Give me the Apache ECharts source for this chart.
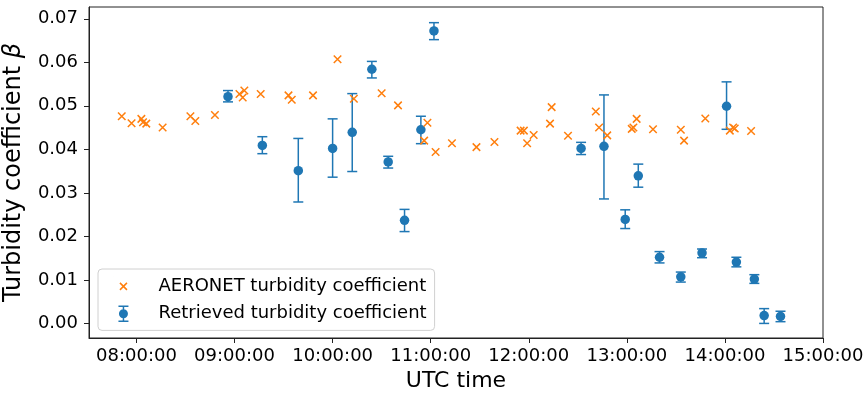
<!DOCTYPE html>
<html>
<head>
<meta charset="utf-8">
<script src="https://cdn.jsdelivr.net/npm/echarts@6/dist/echarts.min.js"></script>
<style>
html,body{margin:0;padding:0;background:#fff;}
#chart{width:866px;height:396px;}
</style>
</head>
<body>
<div id="chart"></div>
<script>
// ---- data ----
const aeronetTime = ["07:51","07:57","08:03","08:04","08:06","08:16","08:33","08:36","08:48","09:03","09:05","09:06","09:16","09:33","09:35","09:48","10:03","10:13","10:30","10:40","10:56","10:58","11:03","11:13","11:28","11:39","11:55","11:57","11:59","12:03","12:13","12:14","12:24","12:41","12:43","12:48","13:03","13:04","13:06","13:16","13:33","13:35","13:48","14:03","14:05","14:06","14:16"];
const aeronetBeta = [0.0476,0.0460,0.0470,0.0462,0.0459,0.0450,0.0476,0.0465,0.0479,0.0527,0.0519,0.0535,0.0527,0.0524,0.0514,0.0524,0.0607,0.0516,0.0529,0.0501,0.0420,0.0461,0.0394,0.0414,0.0405,0.0417,0.0443,0.0443,0.0414,0.0433,0.0459,0.0497,0.0431,0.0487,0.0450,0.0432,0.0447,0.0450,0.0470,0.0446,0.0445,0.0420,0.0471,0.0443,0.0450,0.0448,0.0442];

const retrievedTime = ["08:56","09:17","09:39","10:00","10:12","10:24","10:34","10:44","10:54","11:02","12:32","12:46","12:59","13:07","13:20","13:33","13:46","14:01","14:07","14:18","14:24","14:34"];
const retrievedBeta = [0.0521,0.0409,0.0351,0.0402,0.0439,0.0584,0.0371,0.0237,0.0445,0.0672,0.0402,0.0407,0.0239,0.0339,0.0152,0.0107,0.0162,0.0499,0.0141,0.0102,0.0018,0.0016];
const retrievedLow  = [0.0509,0.0390,0.0279,0.0336,0.0349,0.0564,0.0357,0.0211,0.0413,0.0652,0.0388,0.0286,0.0218,0.0313,0.0139,0.0095,0.0151,0.0446,0.0130,0.0092,0.0000,0.0004];
const retrievedHigh = [0.0535,0.0429,0.0425,0.0470,0.0528,0.0602,0.0384,0.0262,0.0476,0.0691,0.0416,0.0525,0.0261,0.0366,0.0165,0.0118,0.0171,0.0555,0.0152,0.0112,0.0034,0.0028];

const xTickHours = [8, 9, 10, 11, 12, 13, 14, 15];
const yTickValues = [0, 0.01, 0.02, 0.03, 0.04, 0.05, 0.06, 0.07];

const aeronetName = "AERONET turbidity coefficient";
const retrievedName = "Retrieved turbidity coefficient";

// ---- helpers ----
function toHours(s) {
  const p = s.split(":").map(Number);
  return p[0] + p[1] / 60 + (p[2] || 0) / 3600;
}
function pad2(n) { return (n < 10 ? "0" : "") + n; }

const FONT = "DejaVu Sans";
const BLUE = "#1f77b4";
const ORANGE = "#ff7f0e";

const aeronetData = aeronetTime.map((t, i) => [toHours(t), aeronetBeta[i]]);
const retrievedData = retrievedTime.map((t, i) => [toHours(t), retrievedBeta[i]]);
const errorData = retrievedTime.map((t, i) => [toHours(t), retrievedLow[i], retrievedHigh[i]]);

const xIconLegend = "path://M0,0L0.01,0M40,20L40.01,20M6.5,6.5L13.5,13.5M13.5,6.5L6.5,13.5";
const ebIconLegend = "path://M0,0L0,0ZM40,20L40,20Z" +
  "M5,1.75H15V3.25H5Z" +
  "M9.25,2.5H10.75V17.5H9.25Z" +
  "M5,16.75H15V18.25H5Z" +
  "M10,5.5A4.5,4.5 0 1 1 10,14.5A4.5,4.5 0 1 1 10,5.5Z";

const chart = echarts.init(document.getElementById("chart"), null, {renderer: "canvas"});

const option = {
  animation: false,
  backgroundColor: "#ffffff",
  textStyle: {fontFamily: FONT},
  grid: {
    left: 89, right: 43, top: 7, bottom: 58,
    containLabel: false,
    outerBoundsMode: "none",
    show: true,
    borderColor: "#222222",
    borderWidth: 1,
    backgroundColor: "transparent"
  },
  legend: {
    orient: "vertical",
    left: 98, top: 269,
    itemWidth: 40, itemHeight: 20, itemGap: 6.7,
    padding: [6.6, 8, 6.6, 14.7],
    backgroundColor: "#ffffff",
    borderColor: "#d0d0d0",
    borderWidth: 1,
    borderRadius: 4,
    selectedMode: false,
    textStyle: {fontFamily: FONT, fontSize: 18, color: "#000000"},
    data: [
      {name: aeronetName, icon: xIconLegend,
       itemStyle: {color: "rgba(0,0,0,0)", borderColor: ORANGE, borderWidth: 1.5}},
      {name: retrievedName, icon: ebIconLegend,
       itemStyle: {color: BLUE, borderWidth: 0, opacity: 1}}
    ]
  },
  xAxis: {
    type: "value",
    min: 7.516, max: 15.0,
    name: "UTC time",
    nameLocation: "middle",
    nameGap: 30,
    nameTextStyle: {fontFamily: FONT, fontSize: 22, color: "#000"},
    axisLine: {show: true, onZero: false, lineStyle: {color: "#222222", width: 1}},
    axisTick: {show: true, length: 5, lineStyle: {color: "#222222", width: 1}, customValues: xTickHours},
    axisLabel: {
      fontFamily: FONT, fontSize: 18, color: "#000", margin: 9,
      customValues: xTickHours,
      formatter: v => pad2(Math.round(v)) + ":00:00"
    },
    splitLine: {show: false}
  },
  yAxis: {
    type: "value",
    min: -0.00335, max: 0.0727,
    name: "Turbidity coefficient {b|β}",
    nameLocation: "middle",
    nameGap: 63,
    nameRotate: 90,
    nameTextStyle: {fontFamily: FONT, fontSize: 24, color: "#000",
      rich: {b: {fontFamily: FONT, fontSize: 24, fontStyle: "italic", color: "#000"}}},
    axisLine: {show: true, onZero: false, lineStyle: {color: "#222222", width: 1}},
    axisTick: {show: true, length: 5, lineStyle: {color: "#222222", width: 1}, customValues: yTickValues},
    axisLabel: {
      fontFamily: FONT, fontSize: 18, color: "#000", margin: 11,
      customValues: yTickValues,
      formatter: v => v.toFixed(2)
    },
    splitLine: {show: false}
  },
  series: [
    {
      name: retrievedName + " error",
      type: "custom",
      silent: true,
      z: 2,
      encode: {x: 0, y: [1, 2]},
      data: errorData,
      renderItem: function (params, api) {
        const x = api.value(0), lo = api.value(1), hi = api.value(2);
        const pLo = api.coord([x, lo]);
        const pHi = api.coord([x, hi]);
        const cap = 5;
        const style = {stroke: BLUE, lineWidth: 1.5, fill: null};
        return {
          type: "group",
          children: [
            {type: "line", shape: {x1: pLo[0], y1: pLo[1], x2: pHi[0], y2: pHi[1]}, style: style},
            {type: "line", shape: {x1: pLo[0] - cap, y1: pLo[1], x2: pLo[0] + cap, y2: pLo[1]}, style: style},
            {type: "line", shape: {x1: pHi[0] - cap, y1: pHi[1], x2: pHi[0] + cap, y2: pHi[1]}, style: style}
          ]
        };
      }
    },
    {
      name: retrievedName,
      type: "scatter",
      silent: true,
      z: 3,
      symbol: "circle",
      symbolSize: 9.5,
      itemStyle: {color: BLUE, borderWidth: 0, opacity: 1},
      emphasis: {disabled: true},
      data: retrievedData
    },
    {
      name: aeronetName,
      type: "scatter",
      silent: true,
      z: 4,
      symbol: "path://M0,0L10,10M10,0L0,10",
      symbolSize: 7.5,
      itemStyle: {color: "rgba(0,0,0,0)", borderColor: ORANGE, borderWidth: 1.5, opacity: 1},
      emphasis: {disabled: true},
      data: aeronetData
    }
  ]
};
chart.setOption(option);
</script>
</body>
</html>
